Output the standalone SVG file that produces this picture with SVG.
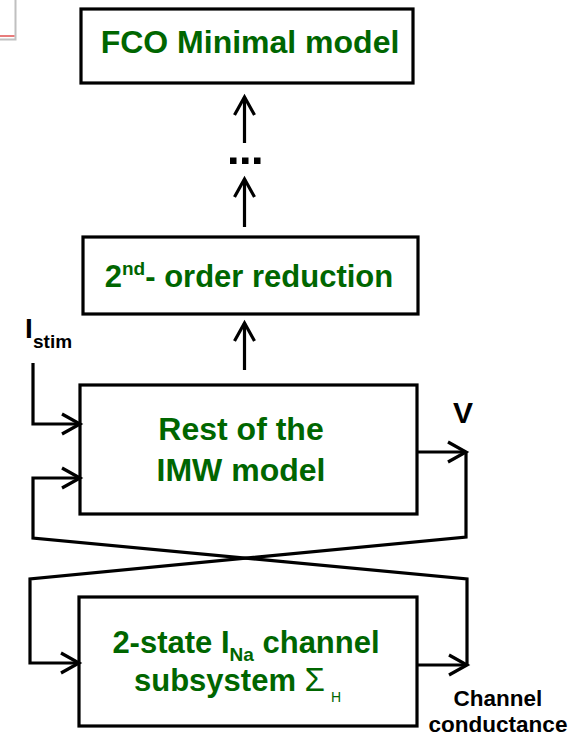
<svg xmlns="http://www.w3.org/2000/svg" width="577" height="738" viewBox="0 0 577 738">
  <style>
    .box { fill: #ffffff; stroke: #000000; stroke-width: 3.2; }
    .wire { fill: none; stroke: #000000; stroke-width: 3.2; stroke-linejoin: miter; }
    .label { font-family: "Liberation Sans", Arial, sans-serif; font-weight: bold; fill: #006600; text-anchor: middle; }
    .left { text-anchor: start; }
    .ext { font-family: "Liberation Sans", Arial, sans-serif; font-weight: bold; fill: #000000; }
    .sym { font-family: "Liberation Sans", Arial, sans-serif; font-weight: normal; fill: #006600; }
  </style>
  <defs>
    <marker id="chev" viewBox="-22 -13 26 26" markerWidth="26" markerHeight="26" refX="0" refY="0" orient="auto" markerUnits="userSpaceOnUse" overflow="visible">
      <path d="M-18,-10 L0,0 L-18,10" fill="none" stroke="#000000" stroke-width="3.2"/>
    </marker>
  </defs>

  <rect width="577" height="738" fill="#ffffff"/>

  <!-- clipped window frame at the top-left corner -->
  <g id="corner-frame">
    <path d="M15.5,0 V39.5 H0" fill="none" stroke="#c0c0c0" stroke-width="2"/>
    <line x1="0" y1="36" x2="14.5" y2="36" stroke="#e05050" stroke-width="1.5"/>
  </g>

  <g id="node-fco">
    <rect class="box" x="81" y="9" width="332" height="74"/>
    <text class="label" x="250" y="53" font-size="32">FCO Minimal model</text>
  </g>

  <g id="node-reduction">
    <rect class="box" x="83" y="237" width="335" height="77"/>
    <text class="label" x="249" y="287" font-size="31">2<tspan font-size="19" dy="-12">nd</tspan><tspan dy="12">- order reduction</tspan></text>
  </g>

  <g id="node-imw">
    <rect class="box" x="80" y="385" width="337" height="129"/>
    <text class="label" x="241" y="440" font-size="32">Rest of the</text>
    <text class="label" x="241" y="481" font-size="32">IMW model</text>
  </g>

  <g id="node-channel">
    <rect class="box" x="79" y="597" width="338" height="129"/>
    <text class="label" x="246" y="653" font-size="31">2-state I<tspan font-size="19" dy="8">Na</tspan><tspan dy="-8"> channel</tspan></text>
    <text class="label left" x="134" y="691" font-size="31">subsystem <tspan class="sym" font-size="33">Σ</tspan><tspan class="sym" font-size="14" dy="11" dx="6">H</tspan></text>
  </g>

  <g id="labels">
    <text class="ext" x="25" y="338" font-size="28">I</text>
    <text class="ext" x="33" y="348" font-size="19">stim</text>
    <text class="ext" x="453" y="423" font-size="30">V</text>
    <text class="ext" x="498" y="706" font-size="22.5" text-anchor="middle">Channel</text>
    <text class="ext" x="498" y="731.5" font-size="22.5" text-anchor="middle">conductance</text>
  </g>

  <g id="connectors">
    <!-- reduction chain -->
    <line class="wire" x1="244.5" y1="143" x2="244.5" y2="97" marker-end="url(#chev)"/>
    <g id="ellipsis" fill="#000000">
      <rect x="230" y="157.5" width="6.5" height="6.5"/>
      <rect x="242" y="157.5" width="6.5" height="6.5"/>
      <rect x="254" y="157.5" width="6.5" height="6.5"/>
    </g>
    <line class="wire" x1="244.5" y1="227" x2="244.5" y2="179" marker-end="url(#chev)"/>
    <line class="wire" x1="244.5" y1="370" x2="244.5" y2="323" marker-end="url(#chev)"/>

    <!-- stimulus current input -->
    <path class="wire" d="M33,363 V424 H80" marker-end="url(#chev)"/>

    <!-- V output feeding the channel subsystem -->
    <line class="wire" x1="417" y1="452" x2="466" y2="452" marker-end="url(#chev)"/>
    <path class="wire" d="M466,452 V537 L30,579 V663 H79" marker-end="url(#chev)"/>

    <!-- channel conductance fed back into the IMW model -->
    <line class="wire" x1="417" y1="665" x2="467" y2="665" marker-end="url(#chev)"/>
    <path class="wire" d="M467,665 V579 L33,538 V478 H80" marker-end="url(#chev)"/>
  </g>
</svg>
